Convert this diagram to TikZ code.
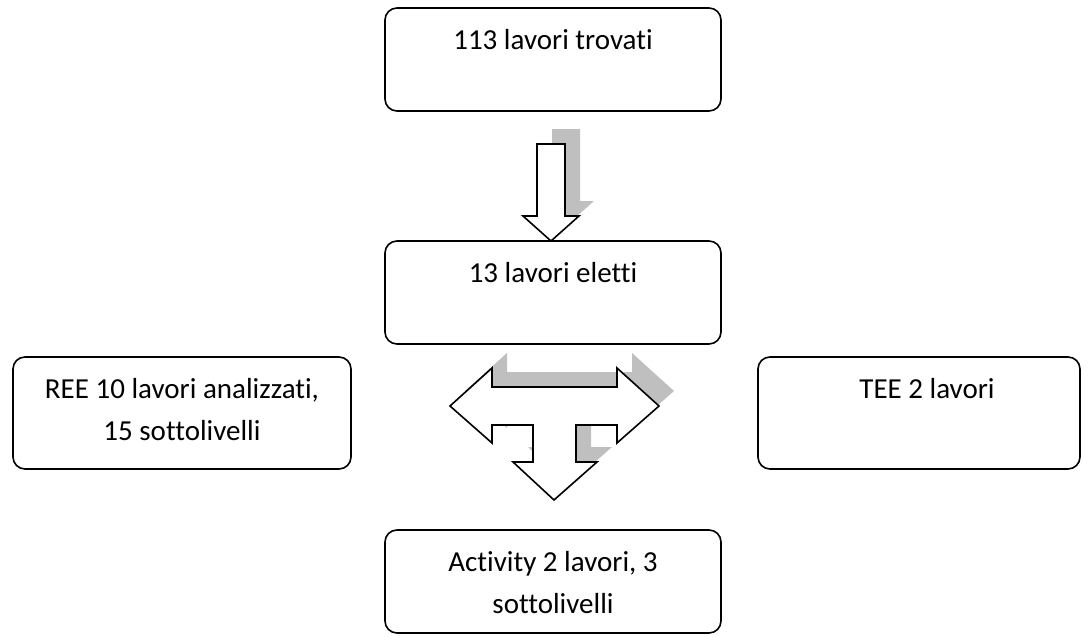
\documentclass[tikz,border=0pt]{standalone}
\usepackage{fontspec}
\setmainfont[Ligatures=NoCommon,RawFeature={-liga;-dlig;-clig}]{Carlito}
\begin{document}
\begin{tikzpicture}[x=1pt,y=-1pt,
  box/.style={draw=black, line width=1.6pt, rounded corners=12pt, inner sep=0pt, fill=white},
  lbl/.style={inner sep=0pt, anchor=base, font=\fontsize{29}{42}\selectfont},
  blockarrow/.style={draw=black, line width=1.6pt, fill=white, line join=miter},
  arrowshadow/.style={fill=black!25, draw=none}
]
\useasboundingbox (0,0) rectangle (1088,637);
% boxes
\node[box, minimum width=336pt, minimum height=103pt] (top) at (553,59.5) {};
\node[box, minimum width=336pt, minimum height=103pt] (mid) at (553,292.5) {};
\node[box, minimum width=338pt, minimum height=112pt] (left) at (182,413) {};
\node[box, minimum width=322pt, minimum height=112pt] (right) at (919,413) {};
\node[box, minimum width=336pt, minimum height=103pt] (bot) at (553,581.5) {};
% texts
\node[lbl] (ttop) at ([yshift=-42pt]top.north) {113 lavori trovati};
\node[lbl] (tmid) at ([yshift=-42pt]mid.north) {13 lavori eletti};
\node[lbl] (tleft) at ([yshift=-42pt]left.north) {\parbox[t]{330pt}{\centering REE 10 lavori analizzati,\\15 sottolivelli}};
\node[lbl] (tright) at ([xshift=8pt,yshift=-42pt]right.north) {TEE 2 lavori};
\node[lbl] (tbot) at ([yshift=-42pt]bot.north) {\parbox[t]{330pt}{\centering Activity 2 lavori, 3\\sottolivelli}};
% down arrow with shadow
\def\downarrowpath{(537,144) -- (565,144) -- (565,216) -- (579,216) -- (551,241) -- (523,216) -- (537,216) -- cycle}
\fill[arrowshadow, shift={(15,-15)}] \downarrowpath;
\draw[blockarrow] \downarrowpath;
% T arrow with shadow
\def\tarrowpath{(450,406) -- (492,368) -- (492,387) -- (617,387) -- (617,368) -- (659,406) -- (617,443) -- (617,425) -- (576,425) -- (576,462) -- (597,462) -- (554,500) -- (513,462) -- (533,462) -- (533,425) -- (492,425) -- (492,443) -- cycle}
\fill[arrowshadow, shift={(15,-15)}] \tarrowpath;
\draw[blockarrow] \tarrowpath;
\end{tikzpicture}
\end{document}
